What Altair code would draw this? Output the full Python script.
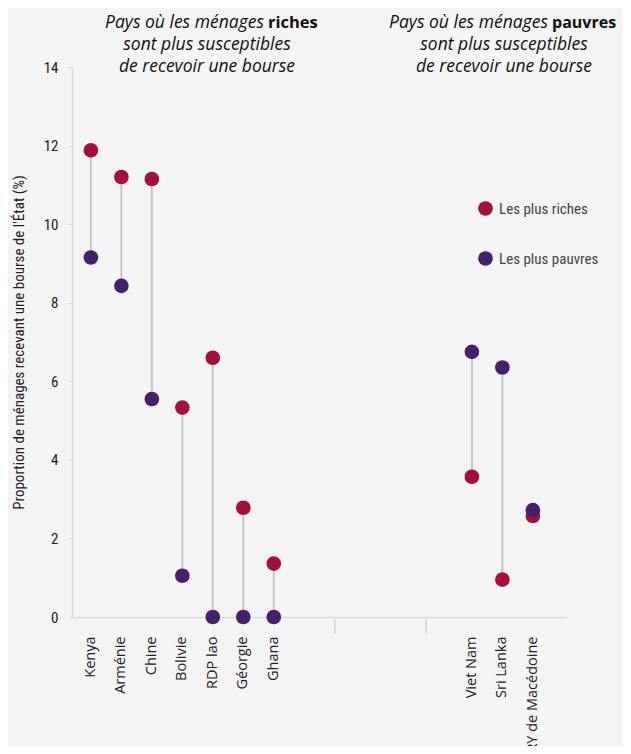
import altair as alt
import pandas as pd

# ---- data ----
countries = ["Kenya", "Arménie", "Chine", "Bolivie", "RDP lao", "Géorgie", "Ghana",
             "Viet Nam", "Sri Lanka", "ERY de Macédoine"]
riches = [11.88, 11.20, 11.15, 5.33, 6.60, 2.78, 1.36, 3.57, 0.95, 2.57]
pauvres = [9.15, 8.43, 5.55, 1.05, 0.0, 0.0, 0.0, 6.75, 6.35, 2.72]
series_names = ["Les plus riches", "Les plus pauvres"]
series_colors = ["#a50f3c", "#46216b"]

# category slots on the x axis (names starting with "_" are empty spacer slots)
slot_order = ["Kenya", "_a1", "Arménie", "_a2", "Chine", "_a3", "Bolivie", "_a4",
              "RDP lao", "_a5", "Géorgie", "_a6", "Ghana", "_b1", "_b2", "_b3", "_t1",
              "_b4", "_b5", "_b6", "_b7", "_b8", "_t2", "_b9", "_b10", "Viet Nam", "_c1",
              "Sri Lanka", "_c2", "ERY de Macédoine", "_c3"]
divider_slots = ["_t1", "_t2"]

y_title = "Proportion de ménages recevant une bourse de l'État (%)"
title_left = ["Pays où les ménages ", "riches", "sont plus susceptibles", "de recevoir une bourse"]
title_right = ["Pays où les ménages ", "pauvres", "sont plus susceptibles", "de recevoir une bourse"]

df = pd.DataFrame({"pays": countries, "Les plus riches": riches, "Les plus pauvres": pauvres})

W, H = 495, 550
TITLE_FONT = "Open Sans"
AXIS_FONT = "Roboto Condensed, DejaVu Sans Condensed, Roboto, sans-serif"

xscale = alt.Scale(domain=slot_order, paddingInner=0, paddingOuter=0.74)
yscale = alt.Scale(domain=[0, 14])

x_enc = alt.X("pays:N", scale=xscale, sort=slot_order,
              axis=alt.Axis(title=None, labelAngle=-90, ticks=False,
                            labelExpr="indexof(datum.label, '_') == 0 ? '' : datum.label",
                            labelFont="Open Sans", labelFontSize=14.5, labelColor="#222222",
                            labelPadding=19, domainColor="#d9d9d9", domainWidth=1.5,
                            labelBaseline="middle"))

base = alt.Chart(df)

rules = base.mark_rule(color="#c9c5c5", strokeWidth=2).encode(
    x=x_enc,
    y=alt.Y("Les plus riches:Q", scale=yscale,
            axis=alt.Axis(title=y_title, values=[0, 2, 4, 6, 8, 10, 12, 14],
                          grid=False, domainColor="#d9d9d9", domainWidth=1.5,
                          tickColor="#d9d9d9", tickSize=4, labelPadding=10,
                          labelFont=AXIS_FONT, labelFontSize=15, labelColor="#222222",
                          titleFont=AXIS_FONT, titleFontSize=15, titleFontWeight="normal",
                          titleColor="#222222", titlePadding=17)),
    y2="Les plus pauvres:Q",
)

points = base.transform_fold(series_names, as_=["groupe", "valeur"]).mark_circle(
    size=215, opacity=1
).encode(
    x=alt.X("pays:N", scale=xscale, sort=slot_order),
    y=alt.Y("valeur:Q", scale=yscale),
    color=alt.Color("groupe:N",
                    scale=alt.Scale(domain=series_names, range=series_colors),
                    legend=alt.Legend(title=None, orient="none", legendX=406, legendY=134,
                                      symbolType="circle", symbolSize=215,
                                      symbolStrokeWidth=0, rowPadding=34,
                                      labelFont=AXIS_FONT, labelFontSize=15,
                                      labelColor="#444444", labelOffset=6)),
)

dividers = alt.Chart(pd.DataFrame({"pays": divider_slots})).mark_rule(
    color="#d0d0d0", strokeWidth=1.5
).encode(
    x=alt.X("pays:N", scale=xscale, sort=slot_order),
    y=alt.value(H + 2),
    y2=alt.value(H + 16),
)

def title_block(lines, split_x, center_x, bold_size):
    rows = [
        {"t": lines[0], "x": split_x - 2, "y": -44, "a": "right", "w": "normal", "s": "italic", "f": 17.5},
        {"t": lines[1], "x": split_x + 2, "y": -44, "a": "left", "w": "bold", "s": "normal", "f": bold_size},
        {"t": lines[2], "x": center_x, "y": -22, "a": "center", "w": "normal", "s": "italic", "f": 17.5},
        {"t": lines[3], "x": center_x, "y": 0, "a": "center", "w": "normal", "s": "italic", "f": 17.5},
    ]
    layers = []
    for r in rows:
        layers.append(
            alt.Chart(pd.DataFrame({"t": [r["t"]]})).mark_text(
                align=r["a"], baseline="middle", font=TITLE_FONT, fontSize=r["f"],
                fontStyle=r["s"], fontWeight=r["w"], color="#111111"
            ).encode(text="t:N", x=alt.value(r["x"]), y=alt.value(r["y"]))
        )
    return layers

titles = title_block(title_left, 194, 135, 16.5) + title_block(title_right, 478, 432, 16)

chart = alt.layer(rules, dividers, points, *titles).properties(
    width=W, height=H,
    background="#f4f4f4",
    padding={"left": 64, "top": 59, "right": 56, "bottom": 129},
    autosize=alt.AutoSizeParams(type="none"),
).configure_view(stroke=None)

chart.save("out.html", embed_options={"renderer": "svg", "actions": False})
